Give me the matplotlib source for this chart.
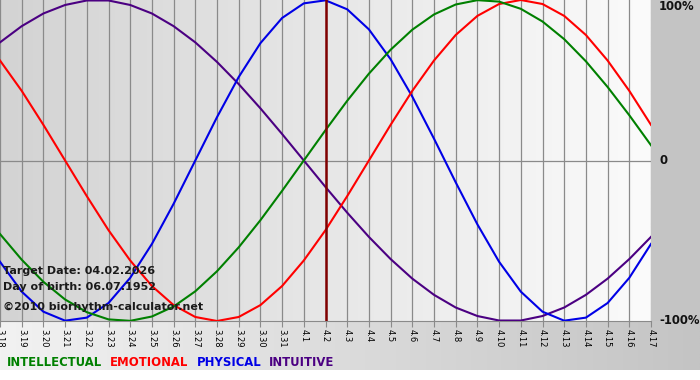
import numpy as np
import matplotlib.pyplot as plt
from matplotlib.colors import LinearSegmentedColormap

# Dates shown on the x axis (month.day)
dates = ['3.18', '3.19', '3.20', '3.21', '3.22', '3.23', '3.24', '3.25', '3.26',
         '3.27', '3.28', '3.29', '3.30', '3.31', '4.1', '4.2', '4.3', '4.4', '4.5',
         '4.6', '4.7', '4.8', '4.9', '4.10', '4.11', '4.12', '4.13', '4.14', '4.15',
         '4.16', '4.17']
target_idx = 15  # 4.2

# Daily values (-1 .. 1)
intellectual = [-0.458, -0.618, -0.756, -0.866, -0.945, -0.990, -0.999, -0.972,
                -0.910, -0.815, -0.690, -0.541, -0.372, -0.189, 0.0, 0.189, 0.372,
                0.541, 0.690, 0.815, 0.910, 0.972, 0.999, 0.990, 0.945, 0.866,
                0.756, 0.618, 0.458, 0.282, 0.095]
emotional = [0.623, 0.434, 0.222, 0.0, -0.222, -0.434, -0.623, -0.782, -0.901,
             -0.975, -1.0, -0.975, -0.901, -0.782, -0.623, -0.434, -0.222, 0.0,
             0.222, 0.434, 0.623, 0.782, 0.901, 0.975, 1.0, 0.975, 0.901, 0.782,
             0.623, 0.434, 0.222]
physical = [-0.631, -0.817, -0.942, -0.998, -0.979, -0.888, -0.731, -0.520,
            -0.270, 0.0, 0.270, 0.520, 0.731, 0.888, 0.979, 0.998, 0.942, 0.817,
            0.631, 0.398, 0.136, -0.136, -0.398, -0.631, -0.817, -0.942, -0.998,
            -0.979, -0.888, -0.731, -0.520]
intuitive = [0.736, 0.837, 0.916, 0.969, 0.997, 0.997, 0.969, 0.916, 0.837,
             0.736, 0.614, 0.476, 0.325, 0.165, 0.0, -0.165, -0.325, -0.476,
             -0.614, -0.736, -0.837, -0.916, -0.969, -0.997, -0.997, -0.969,
             -0.916, -0.837, -0.736, -0.614, -0.476]

names = ['INTELLECTUAL', 'EMOTIONAL', 'PHYSICAL', 'INTUITIVE']
colors = ['#008000', '#ff0000', '#0000e6', '#4b0082']

W, H = 700, 380
PL, PR, PB = 0, 651, 321   # plot area in pixels

fig = plt.figure(figsize=(W / 100, H / 100), dpi=100)

# background gradients, drawn in pixel coordinates
bg = fig.add_axes([0, 0, 1, 1])
bg.set_xlim(0, W)
bg.set_ylim(H, 0)
bg.axis('off')
grad = np.linspace(0, 1, 256)[None, :]
bg.imshow(grad, cmap=LinearSegmentedColormap.from_list('p', ['#d3d3d3', '#fbfbfb']),
          extent=(PL, PR, PB, 0), aspect='auto')
bg.imshow(grad, cmap=LinearSegmentedColormap.from_list('b', ['#f2f2f2', '#c4c4c4']),
          extent=(0, W, 370, PB), aspect='auto')
bg.add_patch(plt.Rectangle((PR, 0), W - PR, PB, color='#c4c4c4', lw=0))

ax = fig.add_axes([PL / W, 1 - PB / H, (PR - PL) / W, PB / H])
ax.patch.set_visible(False)
x = np.arange(len(dates))
ax.set_xlim(0, len(dates) - 1)
ax.set_ylim(-1, 1)

for xi in x:
    ax.axvline(xi, color='#8a8a8a', lw=0.9, zorder=1)
ax.axhline(0, color='#8a8a8a', lw=0.9, zorder=1)
ax.axvline(target_idx, color='#800000', lw=1.8, zorder=5)

for vals, c in zip([intuitive, physical, emotional, intellectual],
                   [colors[3], colors[2], colors[1], colors[0]]):
    ax.plot(x, vals, color=c, lw=1.5, zorder=3, solid_joinstyle='round')

for s in ['top', 'left', 'right']:
    ax.spines[s].set_visible(False)
ax.spines['bottom'].set_color('#8a8a8a')
ax.set_yticks([])
ax.set_xticks(x)
ax.set_xticklabels(dates, rotation=270, fontsize=6, va='top', ha='center')
ax.tick_params(axis='x', length=4, color='#8a8a8a', pad=1.5)

# right-hand labels
for txt, ypix in [('100%', 7), ('0', 161), ('-100%', 321)]:
    fig.text(659 / W, 1 - ypix / H, txt, fontsize=8.4, fontweight='bold',
             color='#111111', va='center', ha='left')

# info text
info = [('Target Date: 04.02.2026', 271), ('Day of birth: 06.07.1952', 287),
        ('\u00a92010 biorhythm-calculator.net', 307)]
for txt, ypix in info:
    fig.text(3 / W, 1 - ypix / H, txt, fontsize=8, fontweight='bold',
             color='#1a1a1a', va='center', ha='left', zorder=10)

# legend
xpos = 7
for n, c in zip(names, colors):
    t = fig.text(xpos / W, 1 - 362 / H, n, fontsize=8.4, fontweight='bold',
                 color=c, va='center', ha='left')
    fig.canvas.draw()
    bb = t.get_window_extent()
    xpos = bb.x1 + 8

fig.savefig('out.png', dpi=100)
